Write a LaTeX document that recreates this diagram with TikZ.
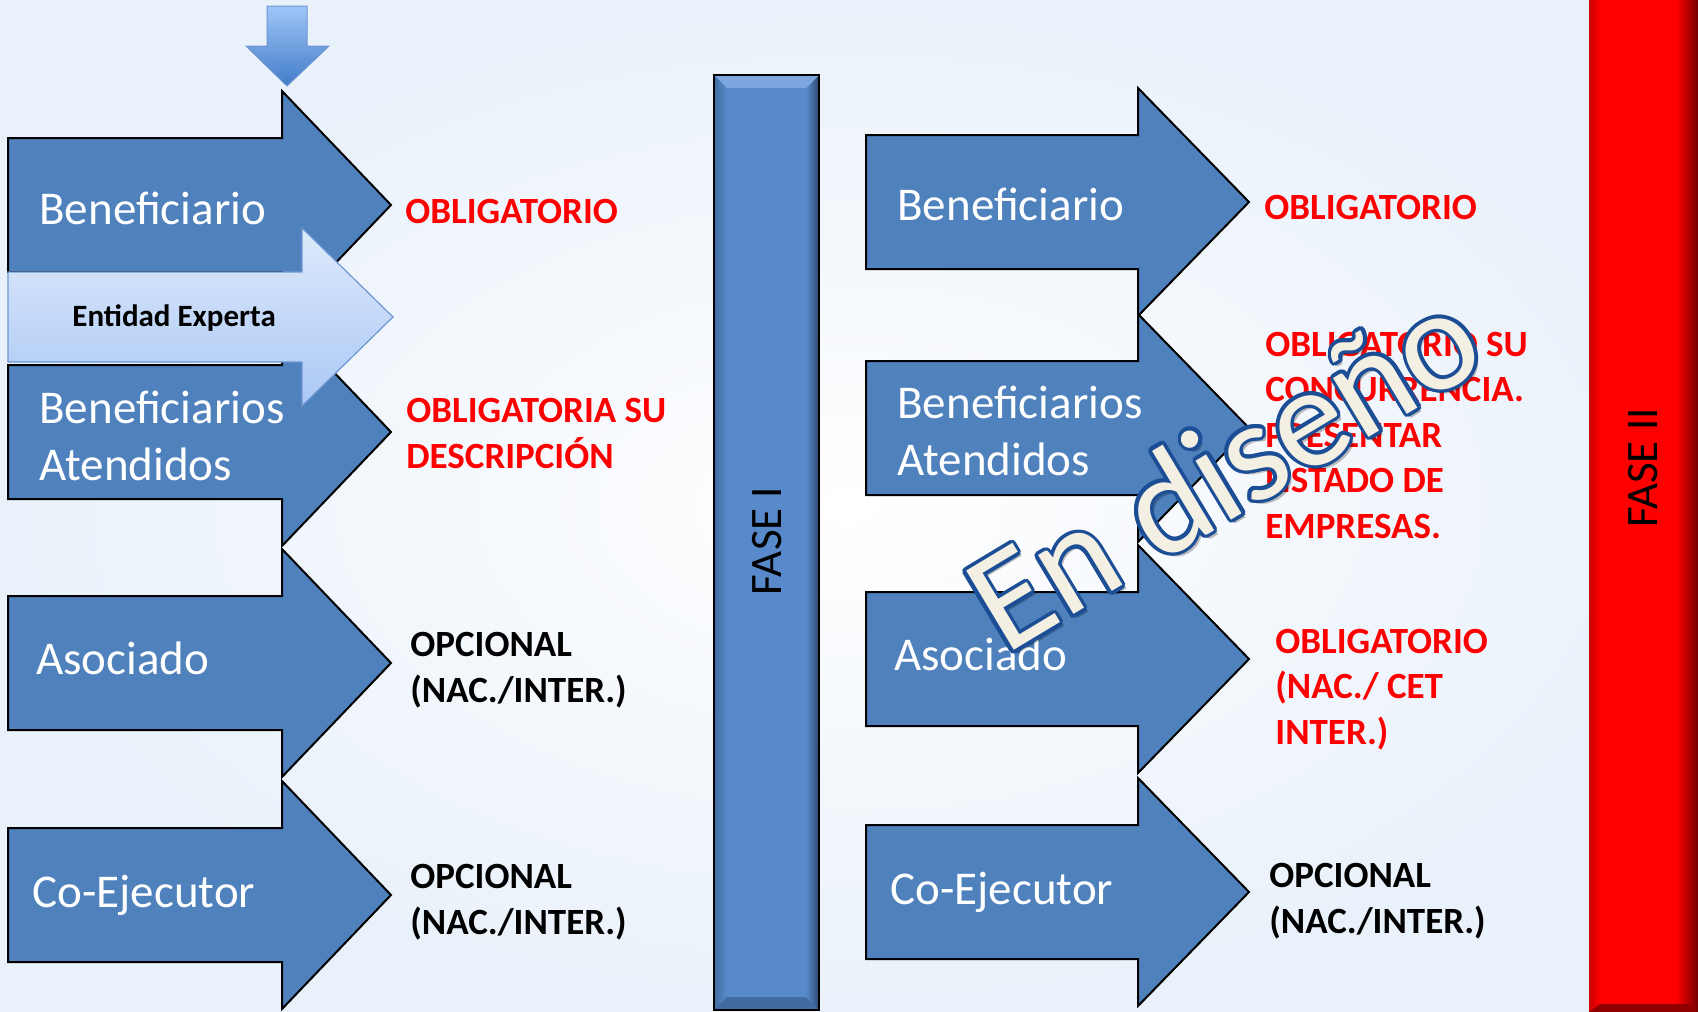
\documentclass[tikz,border=0pt]{standalone}
\usepackage{fontspec}
\setmainfont{Carlito}
\usetikzlibrary{calc}

\definecolor{bgblue}{RGB}{233,241,250}
\definecolor{arrowblue}{RGB}{79,129,189}
\definecolor{entlight}{RGB}{222,233,251}
\definecolor{entdark}{RGB}{170,200,245}
\definecolor{entline}{RGB}{110,150,210}
\definecolor{downlight}{RGB}{160,198,248}
\definecolor{downdark}{RGB}{66,124,200}
\definecolor{faseblue}{RGB}{88,138,203}
\definecolor{faselight}{RGB}{125,165,222}
\definecolor{fasemid}{RGB}{66,108,160}
\definecolor{fasedark}{RGB}{44,72,110}
\definecolor{redleft}{RGB}{200,0,0}
\definecolor{reddark}{RGB}{115,0,0}
\definecolor{wmcream}{RGB}{243,239,226}
\definecolor{wmblue}{RGB}{28,78,150}

\tikzset{
  bigarrow/.style={fill=arrowblue, draw=black, line width=1pt, line join=miter},
  armtext/.style={anchor=base west, inner sep=0pt, text=white, align=left,
    font=\fontsize{23.5}{28.5}\selectfont},
  redlabel/.style={anchor=base west, inner sep=0pt, text=red, align=left,
    font=\bfseries\fontsize{18.5}{22.75}\selectfont},
  blacklabel/.style={redlabel, text=black},
  fasetext/.style={inner sep=0pt, rotate=90, font=\fontsize{22.5}{27}\selectfont},
  wmtext/.style={anchor=base, inner sep=0pt, rotate=31, font=\fontsize{72}{86}\selectfont}
}

\begin{document}
\begin{tikzpicture}[x=0.5pt, y=-0.5pt]
    \useasboundingbox (0,0) rectangle (1698,1012);

    % Background
    \fill[bgblue] (0,0) rectangle (1698,1012);
    \shade[inner color=white, outer color=bgblue] (0,0) rectangle (1698,1012);

    % Small arrow on top
    \shade[top color=downlight, bottom color=downdark, draw=entline, line width=0.5pt]
        (267,6) -- (307,6) -- (307,46) -- (329,46) -- (287,86) -- (246,46) -- (267,46) -- cycle;

    % Left column arrows
    \foreach \cy in {205,432,663,895} {
        \draw[bigarrow] (8,\cy-67) -- (282,\cy-67) -- (282,\cy-114) -- (391,\cy)
            -- (282,\cy+114) -- (282,\cy+67) -- (8,\cy+67) -- cycle;
    }

    % Entidad Experta arrow
    \shade[top color=entlight, bottom color=entdark, draw=entline, line width=0.6pt]
        (8,272) -- (302,272) -- (302,228) -- (393,317) -- (302,406) -- (302,362) -- (8,362) -- cycle;
    \node[anchor=base west, inner sep=0pt, font=\bfseries\fontsize{15.5}{18}\selectfont] (ent) at (72,326) {Entidad Experta};

    % Left column texts (multi-line nodes sit on their last line)
    \node[armtext] (ben1) at (39,224) {Beneficiario};
    \node[armtext] (aten1) at (39,480) {Beneficiarios\\Atendidos};
    \node[armtext] (asoc1) at (36,674) {Asociado};
    \node[armtext] (coej1) at (32,907) {Co-Ejecutor};

    \node[redlabel] (oblig1) at (405,223) {OBLIGATORIO};
    \node[redlabel] (oblig2) at (406,468) {OBLIGATORIA SU\\DESCRIPCIÓN};
    \node[blacklabel] (opc1) at (410,702) {OPCIONAL\\(NAC./INTER.)};
    \node[blacklabel] (opc2) at (410,934) {OPCIONAL\\(NAC./INTER.)};

    % FASE I bar
    \fill[faseblue] (714,75) rectangle (819,1010);
    \shade[left color=fasemid, right color=faseblue] (714,75) -- (727,88) -- (727,997) -- (714,1010) -- cycle;
    \shade[left color=faseblue, right color=fasedark] (806,88) -- (819,75) -- (819,1010) -- (806,997) -- cycle;
    \fill[faselight] (714,75) -- (819,75) -- (806,88) -- (727,88) -- cycle;
    \fill[fasemid] (714,1010) -- (727,997) -- (806,997) -- (819,1010) -- cycle;
    \draw[black, line width=1.2pt] (714,75) rectangle (819,1010);
    \node[fasetext] (fase1) at (767,541) {FASE I};

    % Right column arrows
    \foreach \cy in {202,428,659,892} {
        \draw[bigarrow] (866,\cy-67) -- (1138,\cy-67) -- (1138,\cy-114) -- (1249,\cy)
            -- (1138,\cy+114) -- (1138,\cy+67) -- (866,\cy+67) -- cycle;
    }

    % Right column texts
    \node[armtext] (ben2) at (897,220) {Beneficiario};
    \node[armtext] (aten2) at (897,475) {Beneficiarios\\Atendidos};
    \node[armtext] (asoc2) at (894,670) {Asociado};
    \node[armtext] (coej2) at (890,904) {Co-Ejecutor};

    \node[redlabel] (oblig3) at (1264,219) {OBLIGATORIO};
    \node[redlabel] (oblig4) at (1265,538) {OBLIGATORIO SU\\CONCURRENCIA.\\PRESENTAR\\LISTADO DE\\EMPRESAS.};
    \node[redlabel] (oblig5) at (1275,744) {OBLIGATORIO\\(NAC./ CET\\INTER.)};
    \node[blacklabel] (opc3) at (1269,933) {OPCIONAL\\(NAC./INTER.)};

    % FASE II bar
    \fill[red] (1589,0) rectangle (1698,1012);
    \shade[left color=redleft, right color=red] (1589,0) rectangle (1600,1012);
    \shade[left color=red, right color=reddark] (1676,0) rectangle (1698,1012);
    \fill[reddark!80!red] (1589,1012) -- (1600,1004) -- (1688,1004) -- (1698,1012) -- cycle;
    \node[fasetext] (fase2) at (1643,468) {FASE II};

    % Watermark
    \coordinate (wmc) at (1248,510);
    \node[wmtext, text=black, opacity=0.25] at ([shift={(4,4)}]wmc) {En diseño};
    \foreach \a in {0,22.5,...,337.5} {
        \node[wmtext, text=wmblue] at ([shift={(\a:3.5)}]wmc) {En diseño};
    }
    \node[wmtext, text=wmcream] (wm) at (wmc) {En diseño};
\end{tikzpicture}
\end{document}
